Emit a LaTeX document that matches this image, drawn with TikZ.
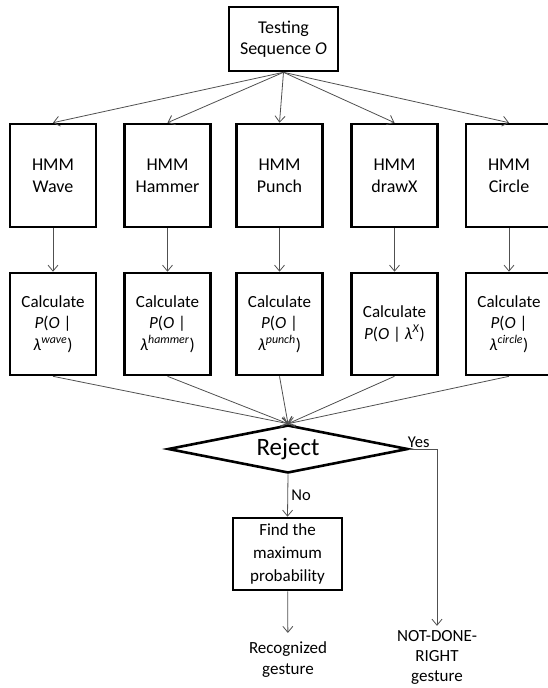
\documentclass[tikz,border=0pt]{standalone}
\usepackage{fontspec}
\setmainfont{Carlito}
\usetikzlibrary{arrows.meta,shapes.geometric,positioning}
\definecolor{linegray}{RGB}{80,80,80}

\begin{document}
\begin{tikzpicture}[
x=1pt,y=-1pt,
>={Straight Barb[length=6pt,width=10pt]},
block/.style={
	draw,
	line width=2.6pt,
	align=center,
	inner sep=0pt
},
hmmbox/.style={
	block,
	minimum width=86pt,
	minimum height=103pt,
	font=\fontsize{18}{22}\selectfont
},
calcbox/.style={
	block,
	minimum width=86pt,
	minimum height=102pt,
	font=\fontsize{17}{21.5}\selectfont
},
link/.style={
	->,
	linegray,
	line width=0.8pt
},
answer/.style={
	text=black,
	font=\fontsize{16.5}{19}\selectfont
},
endtext/.style={
	align=center,
	font=\fontsize{17}{21}\selectfont
}
]
\useasboundingbox (0,0) rectangle (548,688);

\node[block,minimum width=109pt,minimum height=64pt,
	font=\fontsize{18}{21}\selectfont] (test) at (283.5,39) {Testing\\Sequence \textit{O}};

\foreach \x/\n/\t in {53/wave/Wave,167.5/hammer/Hammer,279.5/punch/Punch,394.5/drawx/drawX,509/circle/Circle}
\node[hmmbox] (hmm-\n) at (\x,175.5) {HMM\\\t};

\foreach \x/\n in {53/wave,167.5/hammer,279.5/punch,509/circle}
\node[calcbox] (calc-\n) at (\x,324) {Calculate\\\textit{P}(\textit{O} |\\\textit{λ}\textsuperscript{\textit{\n}})};
\node[calcbox] (calc-drawx) at (394.5,324) {Calculate\\\textit{P}(\textit{O} | \textit{λ}\textsuperscript{\textit{X}})};

\node[draw,diamond,aspect=5,line width=2.6pt,minimum width=240pt,minimum height=48pt,
	inner sep=0pt,font=\fontsize{25}{28}\selectfont] (reject) at (288,449) {Reject};

\node[block,minimum width=109pt,minimum height=72pt,
	font=\fontsize{17}{23}\selectfont] (find) at (287.5,554) {Find the\\maximum\\probability};

\node[endtext,inner sep=9pt] (rec) at (288,660) {Recognized\\gesture};
\node[endtext,inner sep=4pt,font=\fontsize{17}{20}\selectfont] (ng) at (437,657) {NOT-DONE-\\RIGHT\\gesture};

\foreach \n in {wave,hammer,punch,drawx,circle}{
	\draw[link] (test.south) -- (hmm-\n.north);
	\draw[link] (hmm-\n) -- (calc-\n);
	\draw[link] (calc-\n.south) -- (reject.north);
}

\draw[link] (reject.south) -- node[right,answer]{No} (find.north);
\draw[link] (reject.east) -| node[above,pos=0.17,inner sep=1pt,answer]{Yes} (ng.north);
\draw[link] (find) -- (rec);
\end{tikzpicture}
\end{document}
